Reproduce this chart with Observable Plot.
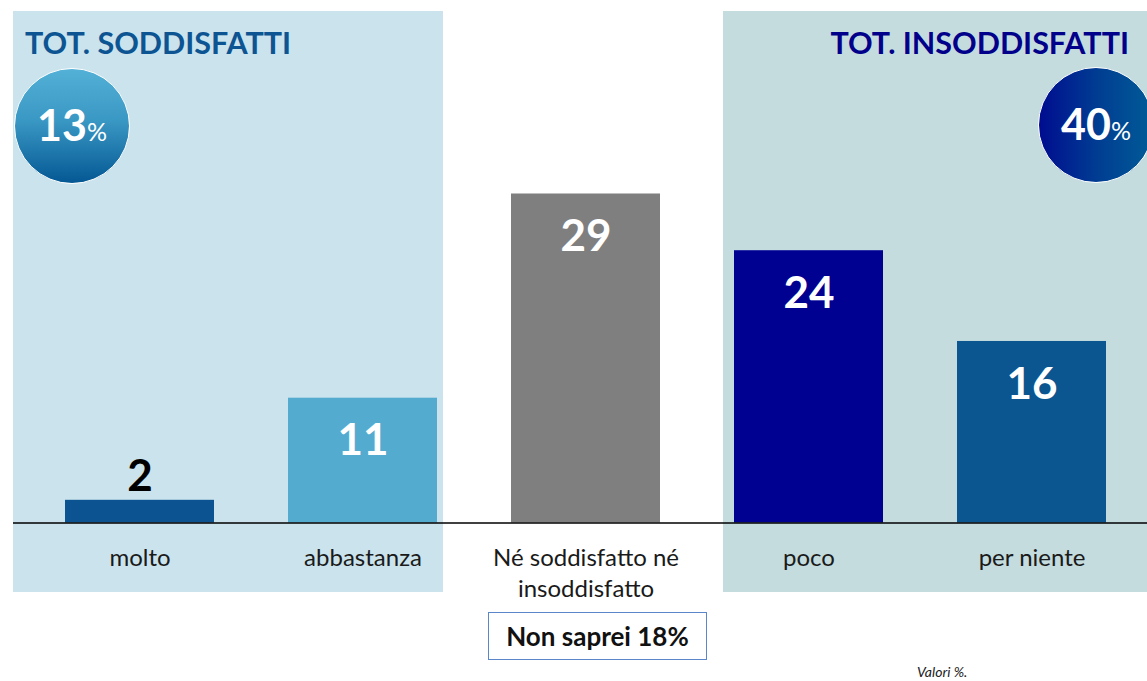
<!DOCTYPE html>
<html>
<head>
<meta charset="utf-8">
<script src="https://cdn.jsdelivr.net/npm/d3@7"></script>
<script src="https://cdn.jsdelivr.net/npm/@observablehq/plot@0.6"></script>
<style>
  html, body { margin: 0; padding: 0; background: #fff; }
  #wrap { position: relative; width: 1147px; height: 681px; overflow: hidden; font-family: Lato, "Open Sans", sans-serif; }
  .panel { position: absolute; top: 11px; height: 581px; }
  .title { position: absolute; font-weight: 700; font-size: 30.5px; line-height: 1; white-space: nowrap; }
  .circle { position: absolute; width: 116px; height: 116px; border-radius: 50%; border: 1.5px solid #fff; box-sizing: border-box; color: #fff; display: flex; align-items: baseline; justify-content: center; padding-top: 34px; }
  .circle .big { font-weight: 700; font-size: 43px; line-height: 1; }
  .circle .pct { font-size: 25px; line-height: 1; }
  #chart { position: absolute; left: 0; top: 0; }
  #box { position: absolute; left: 488px; top: 612px; width: 219px; height: 48px; box-sizing: border-box; border: 1.5px solid #5b86c9; display: flex; align-items: center; justify-content: center; font-weight: 700; font-size: 26px; color: #111; }
  #note { position: absolute; left: 917px; top: 663px; font-style: italic; font-size: 14px; color: #222; }
</style>
</head>
<body>
<div id="wrap">
  <div class="panel" style="left:13px;width:430px;background:#cae3ec;"></div>
  <div class="panel" style="left:723px;width:424px;background:#c4dcdd;"></div>
  <div id="chart"></div>
  <div class="title" id="t1" style="left:25px;top:27px;color:#0d5493;"></div>
  <div class="title" id="t2" style="right:18px;top:27px;color:#00008b;"></div>
  <div class="circle" id="c1" style="left:14px;top:68px;background:linear-gradient(to bottom,#53b0d6,#3a98c4 45%,#045894);"></div>
  <div class="circle" id="c2" style="left:1038px;top:67px;background:linear-gradient(to right,#000c8f,#003c92 50%,#005c97);"></div>
  <div id="box"></div>
  <div id="note"></div>
</div>
<script>
const categories = ["molto", "abbastanza", "neutro", "poco", "per niente"];
const categoryLabels = ["molto", "abbastanza", "Né soddisfatto né\ninsoddisfatto", "poco", "per niente"];
const values = [2, 11, 29, 24, 16];
const barColors = ["#0b5491", "#53abd0", "#7f7f7f", "#000091", "#0b5591"];
const groupTitles = ["TOT. SODDISFATTI", "TOT. INSODDISFATTI"];
const groupTotals = [13, 40];
const nonSaprei = 18;
const note = "Valori %.";

const data = categories.map((c, i) => ({cat: c, label: categoryLabels[i], value: values[i], color: barColors[i]}));

const chart = Plot.plot({
  width: 1147,
  height: 681,
  marginLeft: 63,
  marginRight: 39,
  marginTop: 68.7,
  marginBottom: 158.5,
  style: {background: "transparent", fontFamily: "Lato, 'Open Sans', sans-serif", overflow: "visible"},
  x: {domain: categories, paddingInner: 0.33, paddingOuter: 0, axis: null},
  y: {domain: [0, 40], axis: null},
  marks: [
    Plot.barY(data, {x: "cat", y: "value", fill: "color"}),
    Plot.ruleY([0], {stroke: "#000", strokeWidth: 1.5}),
    Plot.text(data, {x: "cat", y: 0, text: "label", lineAnchor: "top", dy: 21, fontSize: 24, lineHeight: 1.3, fill: "#1a1a1a"}),
    Plot.text(data.filter(d => d.value >= 5), {x: "cat", y: "value", text: d => String(d.value), lineAnchor: "top", dy: 26, fontSize: 44, fontWeight: 700, fill: "#fff"}),
    Plot.text(data.filter(d => d.value < 5), {x: "cat", y: "value", text: d => String(d.value), lineAnchor: "top", dy: -41, fontSize: 44, fontWeight: 700, fill: "#000"})
  ]
});
document.getElementById("chart").appendChild(chart);
// extend baseline across the full chart width like the reference
d3.select(chart).selectAll('g[aria-label="rule"] line').attr("x1", 13).attr("x2", 1147);

document.getElementById("t1").textContent = groupTitles[0];
document.getElementById("t2").textContent = groupTitles[1];
document.getElementById("c1").innerHTML = `<span class="big">${groupTotals[0]}</span><span class="pct">%</span>`;
document.getElementById("c2").innerHTML = `<span class="big">${groupTotals[1]}</span><span class="pct">%</span>`;
document.getElementById("box").textContent = `Non saprei ${nonSaprei}%`;
document.getElementById("note").textContent = note;
</script>
</body>
</html>
